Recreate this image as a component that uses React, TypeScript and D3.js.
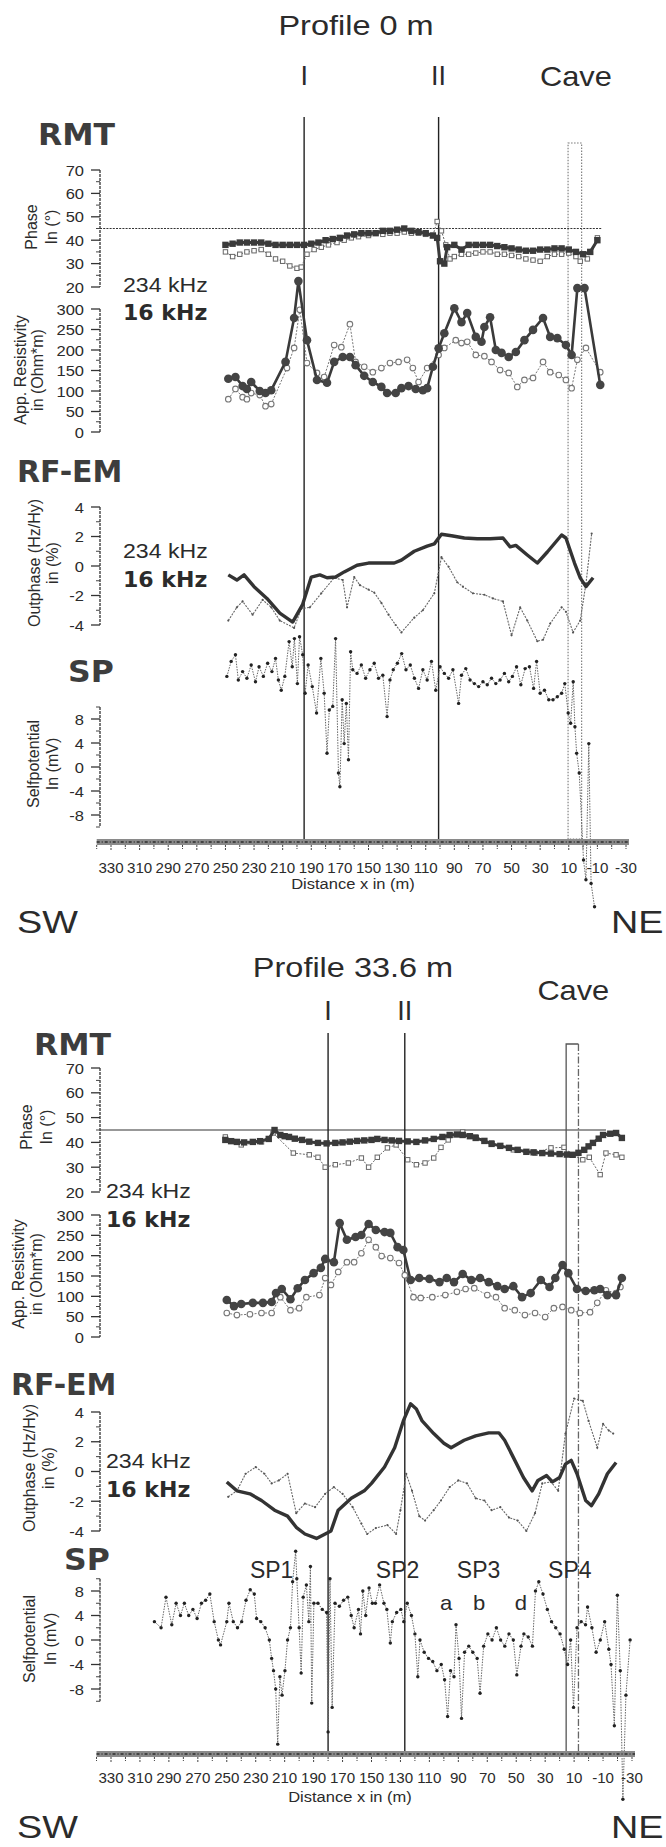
import React from "react";
import * as d3 from "d3";

type Pt = [number, number];

// ---------- Profile 0 m ----------
const p0Phase16: Pt[] = [[250,38],[245,38.5],[240,39],[235,39],[230,39],[225,39],[220,38.5],[215,38],[210,38],[205,38],[200,38],[195,38],[190,38.5],[185,39],[180,40],[175,40.5],[170,41],[165,42],[160,42.5],[155,43],[150,43],[145,43],[140,44],[135,44],[130,44.5],[125,45],[120,44],[115,43.5],[110,43],[105,42],[102,41],[100,31],[97,30],[95,37],[90,38],[85,36],[80,38],[75,38],[70,38],[65,38],[60,37.5],[55,37],[50,36.5],[45,36],[40,35.5],[35,35.5],[30,36],[25,36],[20,36.5],[15,36.5],[10,36],[5,35],[0,34],[-5,35],[-10,40]];
const p0Phase234: Pt[] = [[250,35],[245,33],[240,34],[235,35],[230,35.5],[225,36],[220,34],[215,32],[210,31],[205,29],[200,28],[197,28.5],[193,34],[188,36],[183,37],[178,38],[172,39],[167,40],[162,41],[157,41.5],[150,42],[145,43],[140,42.5],[135,43],[130,43],[125,43.5],[120,43],[115,43],[110,42.5],[105,42],[102,48],[99,44],[96,38],[93,32],[90,33],[85,34],[80,34],[75,34.5],[70,35],[65,35],[60,34],[55,34],[50,33.5],[45,33],[40,32],[35,31.5],[30,31],[25,33],[20,34],[15,34],[10,34.5],[5,33],[2,31],[-3,32],[-10,41]];
const p0Res16: Pt[] = [[248,130],[243,134],[238,112],[235,105],[232,122],[226,100],[222,95],[218,102],[208,171],[202,278],[199,368],[193,224],[186,127],[179,120],[174,171],[168,183],[163,183],[159,163],[153,137],[147,122],[141,110],[137,95],[131,95],[127,107],[122,112],[117,105],[112,102],[109,107],[105,159],[101,204],[97,241],[90,302],[85,268],[81,290],[75,232],[71,220],[69,256],[65,280],[61,200],[57,193],[52,183],[47,195],[41,224],[35,249],[28,278],[23,232],[18,229],[12,212],[8,188],[4,351],[-1,351],[-12,115]];
const p0Res234: Pt[] = [[248,80],[243,105],[238,85],[235,80],[232,95],[226,90],[222,63],[218,68],[207,156],[202,205],[198,298],[193,168],[186,144],[181,134],[174,212],[169,207],[163,263],[159,171],[153,159],[147,146],[141,156],[135,168],[129,171],[123,176],[119,156],[115,122],[109,156],[101,188],[97,205],[89,224],[85,217],[81,220],[75,188],[69,185],[64,171],[58,151],[52,144],[46,110],[41,127],[35,132],[28,171],[23,146],[17,139],[12,127],[8,107],[4,176],[-2,205],[-12,146]];
const p0Out16: Pt[] = [[248,-0.6],[242,-0.95],[237,-0.6],[230,-1.4],[221,-2.2],[212,-3.2],[203,-3.8],[196,-2.6],[190,-0.75],[184,-0.6],[179,-0.8],[173,-0.75],[167,-0.4],[158,0.05],[150,0.2],[141,0.2],[132,0.2],[127,0.4],[118,1.0],[109,1.35],[104,1.5],[99,2.15],[92,2.05],[83,1.9],[74,1.85],[65,1.85],[56,1.9],[51,1.3],[47,1.4],[39,0.75],[32,0.2],[25,0.95],[15,2.1],[12,1.9],[6,0.2],[2,-0.8],[-2,-1.4],[-7,-0.8]];
const p0Out234: Pt[] = [[248,-3.7],[242,-2.8],[238,-2.4],[231,-3.3],[224,-2.3],[218,-2.8],[212,-3.7],[202,-4.2],[197,-2.9],[191,-2.8],[183,-1.85],[174,-0.8],[168,-0.95],[165,-2.8],[160,-0.75],[156,-1.3],[150,-1.6],[146,-1.8],[141,-2.5],[136,-3.3],[131,-4.0],[127,-4.5],[118,-3.5],[112,-3.0],[104,-1.85],[99,0.6],[94,-0.05],[88,-1.1],[84,-1.4],[77,-1.85],[69,-1.95],[63,-2.2],[56,-2.4],[50,-4.7],[44,-2.8],[39,-3.7],[32,-5.1],[28,-5.0],[23,-3.9],[15,-2.8],[12,-3.1],[7,-4.5],[2,-3.7],[-2,-1.2],[-6,2.2]];
const p0SP: Pt[] = [[249,15.1],[246,17.6],[243,18.7],[241,14.5],[238,15.9],[235,14.8],[232,17.0],[229,14.2],[226.5,16.7],[223.5,15.1],[220.5,17.3],[217.5,15.9],[215,18.1],[213,14.5],[211,12.8],[208.5,15.1],[205.5,20.9],[203.3,16.7],[201.8,21.4],[199.7,13.9],[198.2,21.7],[196,18.7],[194.3,12.3],[192.2,17.0],[189.3,13.4],[186.3,9.0],[183.3,18.1],[181,12.3],[179,2.3],[177.4,9.5],[175,10.1],[173,21.4],[171,-1.0],[170,-3.3],[168.4,11.2],[167,3.9],[165.5,10.6],[164,1.2],[162.5,19.2],[161,16.2],[158,15.6],[155,17.0],[152,14.8],[149,16.2],[146,17.3],[143,14.8],[140,15.3],[137,8.4],[135,14.5],[132.7,16.2],[129.8,17.3],[126.8,18.9],[123.8,16.2],[120.8,17.0],[117.9,14.8],[115,13.1],[112,16.2],[109,14.5],[106,17.6],[103,12.8],[100,16.7],[97,15.6],[94,14.8],[91,16.2],[87,10.6],[85,15.3],[82,16.4],[79,14.5],[76,13.9],[73,13.4],[70,14.2],[67,13.7],[64,14.8],[61,13.9],[58,14.5],[55,15.6],[52,14.2],[49.4,15.1],[46.5,16.7],[43.5,13.7],[40.5,16.4],[37.5,16.7],[34.6,13.1],[32.5,17.6],[30,12.3],[27,12.8],[24,11.2],[21,11.2],[18,11.7],[15,12.3],[12.8,13.9],[10.4,9.0],[8.7,7.3],[6.9,14.2],[5.7,6.7],[4.5,2.3],[2.7,-1.0],[-0.3,-15.5],[-2,-18.8],[-4,3.9],[-5.6,-19.4],[-8,-23.3]];
const p0Faults = [{ label: "I", x: 195 }, { label: "II", x: 101 }];
const p0Cave: [number, number] = [10.5, 1];

// ---------- Profile 33.6 m ----------
const p1Phase16: Pt[] = [[251,41],[247,40.5],[243,40.2],[238,40],[232,40.2],[227,40.5],[221,41.4],[217,45],[213,43],[210,42.5],[207,42.2],[203,41.5],[198,41],[193,40.3],[187,39.8],[181,39.6],[175,39.8],[170,40],[165,40.3],[160,40.6],[155,40.8],[150,41],[146,41.4],[141,41],[136,40.8],[131,40.6],[125,40.4],[119,40.2],[113,40.8],[107,41.4],[101,42.2],[96,43],[91,43.2],[87,43],[82,42.5],[78,41.8],[72,40.6],[67,39.4],[61,38.6],[55,37.8],[49,37],[43,36.2],[38,36],[32,35.7],[26,35.5],[20,35.3],[15,35.1],[11,35],[7,35.8],[3,37],[0,38.4],[-3,39.8],[-7,41.5],[-10,43],[-15,43.5],[-19,43.8],[-23,41.8]];
const p1Phase234: Pt[] = [[251,42.2],[240,39],[226,40.2],[218,43.8],[204,35.7],[193,35],[187,34],[182,30],[175,31],[166,31.7],[157,33.7],[152,30],[146,34],[139,37.8],[133,39],[125,33],[119,31],[113,31.7],[107,33.7],[102,38],[97,41],[87,44.2],[78,42.2],[67,39.8],[52,37],[37,35.7],[26,37.8],[17,38],[11,35],[4,33],[-0.5,34],[-8,27],[-12,35.7],[-19,35],[-23,34]];
const p1Res16: Pt[] = [[250,91],[245,76],[240,81],[232,84],[225,84],[219,86],[216,108],[212,118],[206,93],[201,120],[196,140],[190,157],[185,170],[182,192],[176,184],[172,280],[167,239],[161,246],[157,251],[152,278],[147,263],[141,258],[137,256],[132,221],[128,214],[123,140],[117,145],[110,143],[103,135],[98,145],[93,135],[87,155],[81,140],[75,145],[69,135],[63,125],[58,118],[52,125],[46,98],[40,108],[33,140],[27,123],[23,145],[18,177],[14,157],[8,118],[2,113],[-4,115],[-8,118],[-13,103],[-19,103],[-23,145]];
const p1Res234: Pt[] = [[250,59],[243,54],[234,56],[226,59],[219,59],[213,98],[206,66],[200,71],[195,98],[186,103],[182,145],[178,128],[173,160],[167,184],[162,184],[157,206],[152,239],[147,221],[143,199],[137,194],[131,182],[127,152],[121,98],[116,96],[108,98],[99,103],[91,111],[85,118],[79,120],[70,103],[64,98],[58,71],[51,66],[44,54],[37,59],[30,49],[24,71],[18,74],[12,66],[6,59],[-1,61],[-6,84],[-12,115],[-19,108],[-22,123]];
const p1Out16: Pt[] = [[250,-0.7],[243,-1.3],[234,-1.5],[226,-1.95],[217,-2.6],[208,-3.0],[202,-3.75],[196,-4.2],[188,-4.5],[182,-4.2],[178,-4.0],[173,-2.6],[164,-1.8],[155,-1.3],[150,-0.8],[141,0.3],[134,1.6],[128,3.4],[123,4.55],[119,4.2],[115,3.4],[107,2.55],[100,1.9],[95,1.6],[86,2.1],[78,2.4],[69,2.6],[62,2.6],[58,2.1],[52,0.95],[45,-0.4],[39,-1.3],[35,-0.6],[29,-0.27],[25,-0.7],[20,-0.4],[16,0.5],[12,0.75],[8,-0.15],[2,-1.95],[-2,-2.3],[-7,-1.5],[-13,-0.15],[-19,0.6]];
const p1Out234: Pt[] = [[249,-1.7],[243,-1.3],[237,-0.15],[230,0.3],[224,-0.15],[219,-0.8],[214,-0.6],[208,-0.15],[202,-2.8],[196,-2.15],[189,-2.4],[182,-1.5],[176,-1.05],[170,-1.5],[163,-2.4],[157,-3.5],[153,-4.2],[147,-3.8],[139,-3.6],[133,-4.2],[130,-2.6],[126,-0.15],[122,-1.3],[117,-3.0],[113,-3.3],[107,-2.6],[102,-1.95],[96,-1.05],[90,-0.6],[84,-0.8],[78,-1.8],[72,-1.95],[67,-2.6],[61,-2.4],[55,-3.1],[49,-3.3],[43,-4.0],[37,-2.8],[32,-0.8],[26,-0.7],[21,-1.3],[16,2.55],[10,4.9],[4,4.75],[0,3.4],[-6,1.6],[-10,3.2],[-14,2.75],[-17,2.55]];
const p1SP: Pt[] = [[300,3],[295.4,2],[292,7],[288,2.5],[285,6],[282,4],[279.3,6],[276.3,4],[273.4,5],[270.5,3.5],[267.5,6],[264.6,6.5],[261.7,7.5],[258.7,3],[255.8,0],[254.3,-0.8],[250,3],[248.5,6],[245.5,3],[242.6,2],[239.7,3],[236.7,6.5],[233.8,8.2],[231,7.5],[229.4,3.5],[226.5,3],[223.5,2],[220.6,0],[219,-3],[217.7,-5],[216.2,-8],[214.8,-17],[213.3,-6],[211.8,-9],[209.8,-5],[208,0],[206,2],[204.5,9.5],[202.4,14.5],[201.6,10],[200,2],[198.6,-5.4],[197.2,7],[195,9],[193.3,3],[192.2,12],[191.3,-10.3],[189.8,6],[187,6],[184,5],[181,4.5],[180,-15],[178.7,10],[177.2,-11],[175.2,6],[172.2,5.5],[169.3,6.5],[166.4,7],[164,4],[162,2],[159,5],[157.6,1],[156,8],[154,4],[151.7,8.5],[149.4,6],[147.3,6],[144.4,9],[141.4,6],[139.4,5],[137,-0.5],[135.6,3],[132.6,4.5],[129.7,5],[127.7,3],[125.3,6],[122.4,4],[120,1],[118,-6],[116.5,0],[113.6,-2],[110.6,-3],[107.7,-3.5],[104.8,-5],[101.8,-4],[99.5,-6.5],[97.4,-12.5],[95.4,-5],[93,-6],[91.6,2.5],[89.5,-3],[87.8,-12.8],[85.7,-2],[82.8,-1],[80,-2],[77,-3],[75,-8.7],[72.5,-1],[69.6,1],[66.7,0],[63.7,2],[60.8,0],[57.9,-1],[55,1],[52,0],[49.6,-5.7],[46.7,-1],[44.7,1],[41.7,0.5],[38.8,-1],[36.7,8],[34.4,9.5],[31.5,7.5],[28.5,5],[25.6,3],[22.7,2],[19.7,1],[16.8,-1.5],[14.5,-4],[12.4,0],[10.4,-11],[8,2],[5.1,3],[2.1,2.5],[0.7,5.4],[-2.3,2],[-5.2,-2],[-8.1,0],[-11.1,3],[-14,-1.5],[-15.5,-4],[-17.8,-14],[-19.9,7.3],[-21.9,-5],[-23.7,-26],[-25.8,-9],[-28.7,0]];
const p1Faults = [{ label: "I", x: 180 }, { label: "II", x: 127 }];
const p1Cave: [number, number] = [15.5, 7];
const p1SpNames = [{ label: "SP1", x: 219 }, { label: "SP2", x: 132 }, { label: "SP3", x: 76 }, { label: "SP4", x: 13 }];
const p1SpLetters = [{ label: "a", x: 98.5 }, { label: "b", x: 75.7 }, { label: "d", x: 46.7 }];

// ---------- ticks ----------
const distTicks = [330, 310, 290, 270, 250, 230, 210, 190, 170, 150, 130, 110, 90, 70, 50, 30, 10, -10, -30];
const phaseTicks = [70, 60, 50, 40, 30, 20];
const resTicks = [300, 250, 200, 150, 100, 50, 0];
const outTicks = [4, 2, 0, -2, -4];
const spTicks = [8, 4, 0, -4, -8];

const FONT = "'Liberation Sans', Arial, sans-serif";
const BOLD = "'DejaVu Sans', 'Liberation Sans', sans-serif";
const INK = "#2b2b2b";

function T({ x, y, size = 15, anchor = "start", weight = 400, sx = 1.15, fill = INK, family = FONT, children }: any) {
  return (
    <text transform={`translate(${x},${y}) scale(${sx},1)`} fontSize={size} textAnchor={anchor}
      fontWeight={weight} fill={fill} fontFamily={family}>{children}</text>
  );
}

function VTitle({ c1, c2, cy, l1, l2 }: any) {
  return (
    <g fontFamily={FONT} fontSize={16} fill={INK} textAnchor="middle">
      <text transform={`translate(${c1 + 6},${cy}) rotate(-90)`}>{l1}</text>
      <text transform={`translate(${c2 + 6},${cy}) rotate(-90)`}>{l2}</text>
    </g>
  );
}

function LeftAxis({ y, ticks, minor, ext }: any) {
  const x0 = 100;
  const [a, b] = ext || [ticks[0], ticks[ticks.length - 1]];
  return (
    <g>
      <line x1={x0} x2={x0} y1={y(a)} y2={y(b)} stroke="#333" strokeWidth={1.3} strokeDasharray="3 1" />
      {minor.map((t: number) => (
        <line key={"m" + t} x1={x0 - 4} x2={x0} y1={y(t)} y2={y(t)} stroke="#444" strokeWidth={1} />
      ))}
      {ticks.map((t: number) => (
        <g key={t}>
          <line x1={x0 - 9} x2={x0} y1={y(t)} y2={y(t)} stroke="#333" strokeWidth={1.3} />
          <T x={84} y={y(t) + 5.5} size={15} anchor="end" sx={1.1}>{t}</T>
        </g>
      ))}
    </g>
  );
}

function Profile({ L, d }: any) {
  const x = d3.scaleLinear().domain([330, -30]).range(L.xRange);
  const yPh = d3.scaleLinear().domain([70, 20]).range(L.phase);
  const yRes = d3.scaleLinear().domain([300, 0]).range(L.res);
  const yOut = d3.scaleLinear().domain([4, -4]).range(L.out);
  const ySp = d3.scaleLinear().domain([8, -8]).range(L.sp);
  const line = (ys: any) => d3.line<Pt>().x((p) => x(p[0])).y((p) => ys(p[1]));
  const xTicks = d3.range(340, -31, -10);
  const [c1, c2] = d.cave;
  const bar0 = x(340), bar1 = x(-30) + 3;

  return (
    <g>
      <T x={L.titleX} y={L.titleY} size={28} anchor="middle" sx={1.16}>{L.title}</T>
      {d.faults.map((f: any) => (
        <T key={f.label} x={x(f.x)} y={L.faultLabelY} size={27} anchor="middle" sx={1}>{f.label}</T>
      ))}
      <T x={(x(c1) + x(c2)) / 2 + 1} y={L.caveLabelY} size={27} anchor="middle" sx={1.14}>Cave</T>

      {/* section labels and legends */}
      <T x={L.rmt[0]} y={L.rmt[1]} size={30} weight={700} family={BOLD} sx={1.05} fill="#3d3d3d">RMT</T>
      <T x={L.leg1[0]} y={L.leg1[1]} size={21} sx={1.1}>234 kHz</T>
      <T x={L.leg1[0]} y={L.leg1[2]} size={21} weight={700} family={BOLD} sx={1.05}>16 kHz</T>
      <T x={L.rfem[0]} y={L.rfem[1]} size={30} weight={700} family={BOLD} sx={1.0} fill="#3d3d3d">RF-EM</T>
      <T x={L.leg2[0]} y={L.leg2[1]} size={21} sx={1.1}>234 kHz</T>
      <T x={L.leg2[0]} y={L.leg2[2]} size={21} weight={700} family={BOLD} sx={1.05}>16 kHz</T>
      <T x={L.spl[0]} y={L.spl[1]} size={30} weight={700} family={BOLD} sx={1.05} fill="#3d3d3d">SP</T>

      <VTitle c1={L.vt.phase[0]} c2={L.vt.phase[1]} cy={L.vt.phase[2]} l1="Phase" l2="In (°)" />
      <VTitle c1={L.vt.res[0]} c2={L.vt.res[1]} cy={L.vt.res[2]} l1="App. Resistivity" l2="in (Ohm*m)" />
      <VTitle c1={L.vt.out[0]} c2={L.vt.out[1]} cy={L.vt.out[2]} l1="Outphase (Hz/Hy)" l2="in (%)" />
      <VTitle c1={L.vt.sp[0]} c2={L.vt.sp[1]} cy={L.vt.sp[2]} l1="Selfpotential" l2="In (mV)" />

      <LeftAxis y={yPh} ticks={phaseTicks} minor={[65, 55, 45, 35, 25]} />
      <LeftAxis y={yRes} ticks={resTicks} minor={[275, 225, 175, 125, 75, 25]} />
      <LeftAxis y={yOut} ticks={outTicks} minor={[3, 1, -1, -3]} />
      <LeftAxis y={ySp} ticks={spTicks} minor={[10, 6, 2, -2, -6, -10]} ext={[10, -10]} />

      {/* 45 degree reference */}
      <line x1={100} x2={L.refEnd} y1={yPh(45)} y2={yPh(45)} stroke="#333" strokeWidth={1.2}
        strokeDasharray={L.refDotted ? "2 1.2" : undefined} />

      {/* fault lines and cave */}
      {d.faults.map((f: any) => (
        <line key={"l" + f.label} x1={x(f.x)} x2={x(f.x)} y1={L.lineTop} y2={L.barY} stroke="#222" strokeWidth={1.4} />
      ))}
      {L.caveDotted ? (
        <rect x={x(c1)} y={L.caveTop} width={x(c2) - x(c1)} height={L.barY - L.caveTop} fill="none"
          stroke="#777" strokeWidth={1.1} strokeDasharray="1.5 1.5" />
      ) : (
        <g fill="none" strokeWidth={1.3}>
          <path d={`M${x(c1)},${L.barY}V${L.caveTop}H${x(c2)}`} stroke="#555" />
          <line x1={x(c2)} x2={x(c2)} y1={L.caveTop} y2={L.barY} stroke="#666" strokeDasharray="7 2 1.5 2" />
        </g>
      )}

      {/* RMT phase */}
      <path d={line(yPh)(d.phase234) || ""} fill="none" stroke="#666" strokeWidth={1} strokeDasharray="2 1.5" />
      {d.phase234.map((p: Pt, i: number) => (
        <rect key={"pa" + i} x={x(p[0]) - 2.2} y={yPh(p[1]) - 2.2} width={4.4} height={4.4} fill="#fff" stroke="#666" strokeWidth={1} />
      ))}
      <path d={line(yPh)(d.phase16) || ""} fill="none" stroke="#3a3a3a" strokeWidth={3} />
      {d.phase16.map((p: Pt, i: number) => (
        <rect key={"pb" + i} x={x(p[0]) - 3.2} y={yPh(p[1]) - 3.2} width={6.4} height={6.4} fill="#3a3a3a" />
      ))}

      {/* RMT apparent resistivity */}
      <path d={line(yRes)(d.res234) || ""} fill="none" stroke="#777" strokeWidth={1} strokeDasharray="2 1.5" />
      {d.res234.map((p: Pt, i: number) => (
        <circle key={"ra" + i} cx={x(p[0])} cy={yRes(p[1])} r={2.8} fill="#fff" stroke="#777" strokeWidth={1.1} />
      ))}
      <path d={line(yRes)(d.res16) || ""} fill="none" stroke="#3a3a3a" strokeWidth={2.6} />
      {d.res16.map((p: Pt, i: number) => (
        <circle key={"rb" + i} cx={x(p[0])} cy={yRes(p[1])} r={4.3} fill="#444" />
      ))}

      {/* RF-EM outphase */}
      <path d={line(yOut)(d.out234) || ""} fill="none" stroke="#666" strokeWidth={1.1} strokeDasharray="2 1.2" />
      {d.out234.map((p: Pt, i: number) => (
        <circle key={"oa" + i} cx={x(p[0])} cy={yOut(p[1])} r={1.1} fill="#555" />
      ))}
      <path d={line(yOut)(d.out16) || ""} fill="none" stroke="#333" strokeWidth={3.4} strokeLinejoin="round" />

      {/* SP */}
      <path d={line(ySp)(d.sp) || ""} fill="none" stroke="#666" strokeWidth={1} strokeDasharray="1.5 1.2" />
      {d.sp.map((p: Pt, i: number) => (
        <circle key={"s" + i} cx={x(p[0])} cy={ySp(p[1])} r={1.7} fill="#222" />
      ))}
      {(d.spNames || []).map((s: any) => (
        <T key={s.label} x={x(s.x)} y={L.spNameY} size={23} anchor="middle" sx={1.0}>{s.label}</T>
      ))}
      {(d.spLetters || []).map((s: any) => (
        <T key={s.label} x={x(s.x)} y={L.spLetterY} size={21} anchor="middle" sx={1.05}>{s.label}</T>
      ))}

      {/* distance axis */}
      <rect x={bar0} y={L.barY} width={bar1 - bar0} height={6} fill="#8a8a8a" />
      <line x1={bar0} x2={bar1} y1={L.barY + 3} y2={L.barY + 3} stroke="#444" strokeWidth={2} strokeDasharray="3 2 1 2" />
      {xTicks.map((t) => (
        <line key={"t" + t} x1={x(t)} x2={x(t)} y1={L.barY + 6} y2={L.barY + (t % 20 === 10 ? 12 : 10)}
          stroke="#444" strokeWidth={1} strokeDasharray="2 1" />
      ))}
      {distTicks.map((t) => (
        <T key={"d" + t} x={x(t)} y={L.tickLabelY} size={14} anchor="middle" sx={1.08}>{t}</T>
      ))}
      <T x={L.titleX - 3} y={L.distY} size={15} anchor="middle" sx={1.1}>Distance x in (m)</T>
      <T x={17} y={L.swY} size={31} sx={1.22}>SW</T>
      <T x={611} y={L.swY} size={31} sx={1.22}>NE</T>
    </g>
  );
}

const layout0 = {
  xRange: [111, 626], title: "Profile 0 m", titleX: 356, titleY: 35,
  faultLabelY: 85, caveLabelY: 86, lineTop: 117, caveTop: 143, caveDotted: true, refDotted: true, refEnd: 602,
  phase: [170, 287], res: [309, 432], out: [507, 625], sp: [719, 815],
  rmt: [38, 145], leg1: [123, 292, 320], rfem: [17, 482], leg2: [123, 558, 587], spl: [68, 682],
  vt: { phase: [31, 51, 227], res: [20, 37, 370], out: [34, 52, 563], sp: [33, 52, 764] },
  barY: 839, tickLabelY: 873, distY: 889, swY: 933, spNameY: 0, spLetterY: 0,
};
const layout1 = {
  xRange: [111, 632], title: "Profile 33.6 m", titleX: 353, titleY: 977,
  faultLabelY: 1020, caveLabelY: 1000, lineTop: 1033, caveTop: 1044, caveDotted: false, refDotted: false, refEnd: 606,
  phase: [1068, 1192], res: [1215, 1337], out: [1412, 1531], sp: [1591, 1689],
  rmt: [34, 1055], leg1: [106, 1198, 1227], rfem: [11, 1395], leg2: [106, 1468, 1497], spl: [64, 1570],
  vt: { phase: [26, 46, 1127], res: [18, 36, 1274], out: [29, 48, 1468], sp: [29, 50, 1639] },
  barY: 1751, tickLabelY: 1783, distY: 1802, swY: 1838, spNameY: 1578, spLetterY: 1610,
};

export default function App() {
  const d0 = { phase16: p0Phase16, phase234: p0Phase234, res16: p0Res16, res234: p0Res234, out16: p0Out16, out234: p0Out234, sp: p0SP, faults: p0Faults, cave: p0Cave };
  const d1 = { phase16: p1Phase16, phase234: p1Phase234, res16: p1Res16, res234: p1Res234, out16: p1Out16, out234: p1Out234, sp: p1SP, faults: p1Faults, cave: p1Cave, spNames: p1SpNames, spLetters: p1SpLetters };
  return (
    <div style={{ position: "absolute", left: 0, top: 0 }}>
      <svg width={666} height={1847} viewBox="0 0 666 1847" style={{ display: "block", background: "#fff" }}>
        <rect width={666} height={1847} fill="#fff" />
        <Profile L={layout0} d={d0} />
        <Profile L={layout1} d={d1} />
      </svg>
    </div>
  );
}
